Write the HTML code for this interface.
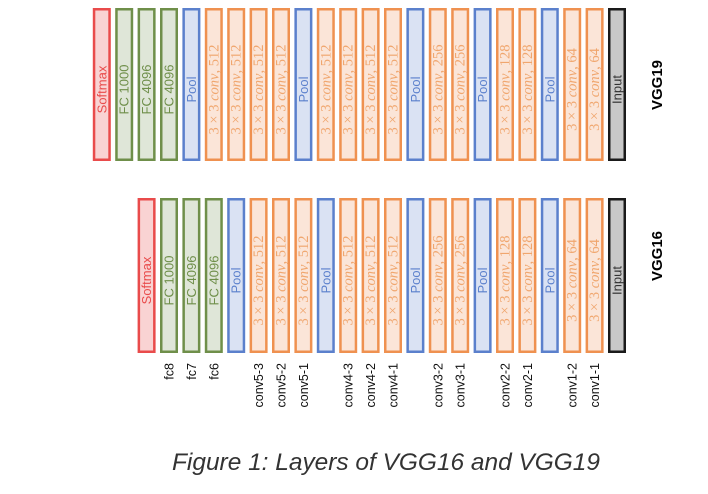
<!DOCTYPE html>
<html><head><meta charset="utf-8"><style>
html,body{margin:0;padding:0;background:#fff;width:708px;height:494px;overflow:hidden}
svg{display:block}
</style></head><body>
<svg id="fig" width="708" height="494" xmlns="http://www.w3.org/2000/svg">
<text x="0" y="0" transform="translate(662,85) rotate(-90)" text-anchor="middle" font-family="Liberation Sans, sans-serif" font-weight="bold" font-size="15">VGG19</text>
<text x="0" y="0" transform="translate(662,256) rotate(-90)" text-anchor="middle" font-family="Liberation Sans, sans-serif" font-weight="bold" font-size="15">VGG16</text>
<text x="386" y="470" text-anchor="middle" font-family="Liberation Sans, sans-serif" font-style="italic" font-size="24" textLength="428" lengthAdjust="spacingAndGlyphs" fill="#333">Figure 1: Layers of VGG16 and VGG19</text>
</svg>
<script>
const vgg19Layers = ["softmax","fc1000","fc4096","fc4096","pool","c512","c512","c512","c512","pool","c512","c512","c512","c512","pool","c256","c256","pool","c128","c128","pool","c64","c64","input"];
const vgg16Layers = ["softmax","fc1000","fc4096","fc4096","pool","c512","c512","c512","pool","c512","c512","c512","pool","c256","c256","pool","c128","c128","pool","c64","c64","input"];
const vgg16Names = ["","fc8","fc7","fc6","","conv5-3","conv5-2","conv5-1","","conv4-3","conv4-2","conv4-1","","conv3-2","conv3-1","","conv2-2","conv2-1","","conv1-2","conv1-1",""];
const NS="http://www.w3.org/2000/svg";
const svg=document.getElementById('fig');
const pitch=22.4, bw=18;
const styles={
 softmax:{s:"#e94b4b",f:"#f9d3d3",t:"#e94b4b"},
 fc:{s:"#6f8f4a",f:"#dfe6d8",t:"#6f8f4a"},
 pool:{s:"#5b80cc",f:"#dae2f3",t:"#5b80cc"},
 conv:{s:"#ef9150",f:"#fbe5d8",t:"#f0a66e"},
 input:{s:"#1a1a1a",f:"#c8c8c8",t:"#333"}
};
function kind(l){if(l==="softmax")return"softmax";if(l.startsWith("fc"))return"fc";if(l==="pool")return"pool";if(l==="input")return"input";return"conv";}
function drawRow(layers,rightX,top,h,rowName){
  const n=layers.length;
  layers.forEach((l,i)=>{
    const x=rightX-(n-1-i)*pitch;
    const k=kind(l), st=styles[k];
    const r=document.createElementNS(NS,'rect');
    
    
    r.setAttribute('x',x+1.25);r.setAttribute('y',top+1.25);
    r.setAttribute('width',bw-2.5);r.setAttribute('height',h-2.5);
    r.setAttribute('fill',st.f);r.setAttribute('stroke',st.s);r.setAttribute('stroke-width',2.5);
    svg.appendChild(r);
    const t=document.createElementNS(NS,'text');
    
    
    const cx=x+bw/2+4.5, cy=top+h/2+5;
    t.setAttribute('transform','translate('+cx+','+cy+') rotate(-90)');
    t.setAttribute('text-anchor','middle');t.setAttribute('fill',st.t);
    if(k==="conv"){
      t.setAttribute('font-family','Liberation Serif, serif');t.setAttribute('font-size','14.5');
      const ch=l.slice(1);
      t.innerHTML='3 × 3 <tspan font-style="italic">conv</tspan>, '+ch;
    }else{
      t.setAttribute('font-family','Liberation Sans, sans-serif');t.setAttribute('font-size','13');
      t.textContent={softmax:"Softmax",pool:"Pool",input:"Input"}[k]||("FC "+l.slice(2));
    }
    svg.appendChild(t);
  });
}
drawRow(vgg19Layers,608,8,153,'vgg19');
drawRow(vgg16Layers,608,198,155,'vgg16');
const n16=vgg16Names.length;
vgg16Names.forEach((nm,i)=>{
  if(!nm)return;
  const x=608-(n16-1-i)*pitch+bw/2+4.5;
  const t=document.createElementNS(NS,'text');
  
  
  t.setAttribute('transform','translate('+x+',363) rotate(-90)');
  t.setAttribute('text-anchor','end');
  t.setAttribute('font-family','Liberation Sans, sans-serif');t.setAttribute('font-size','12.5');t.setAttribute('fill','#111');
  t.textContent=nm;
  svg.appendChild(t);
});
</script>
</body></html>
